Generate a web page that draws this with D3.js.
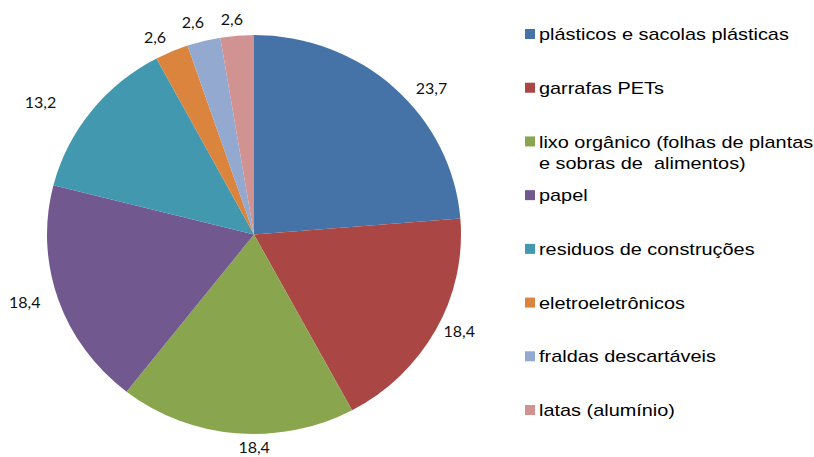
<!DOCTYPE html>
<html>
<head>
<meta charset="utf-8">
<script src="https://cdn.jsdelivr.net/npm/d3@7"></script>
<style>
  body { margin: 0; background: #fff; }
  svg { display: block; }
  .legend text { white-space: pre; }
</style>
</head>
<body>
<svg id="chart"></svg>
<script>
// data
var categories = [
  "plásticos e sacolas plásticas",
  "garrafas PETs",
  "lixo orgânico (folhas de plantas\ne sobras de  alimentos)",
  "papel",
  "residuos de construções",
  "eletroeletrônicos",
  "fraldas descartáveis",
  "latas (alumínio)"
];
var values = [23.7, 18.4, 18.4, 18.4, 13.2, 2.6, 2.6, 2.6];
var valueLabels = ["23,7", "18,4", "18,4", "18,4", "13,2", "2,6", "2,6", "2,6"];
var colors = ["#4572A7", "#AA4643", "#89A54E", "#71588F", "#4198AF", "#DB843D", "#93A9CF", "#D19392"];

// label tweaks (Excel "best fit" placement), degrees / px
var labelAngleShift = [7.8, -3.3, -4.9, 2.4, -6.4, -3.2, -2, -1.2];
var labelRadiusShift = [5, 2, -12, 14, 26, -4, -4, -9];

var width = 814, height = 457;
var cx = 254, cy = 234.5, radius = 207, squash = 199.5 / 207;

var svg = d3.select("#chart").attr("width", width).attr("height", height);

var pie = d3.pie().sort(null).value(function (d) { return d; });
var arcs = pie(values);
var arc = d3.arc().innerRadius(0).outerRadius(radius);

var g = svg.append("g").attr("transform", "translate(" + cx + "," + cy + ")");

// Excel pie is a little flattened vertically
g.append("g")
  .attr("transform", "scale(1," + squash + ")")
  .selectAll("path")
  .data(arcs)
  .enter()
  .append("path")
  .attr("d", arc)
  .attr("fill", function (d, i) { return colors[i]; });

// data labels
g.selectAll("text.lbl")
  .data(arcs)
  .enter()
  .append("text")
  .attr("class", "lbl")
  .attr("x", function (d, i) {
    var a = (d.startAngle + d.endAngle) / 2 + labelAngleShift[i] * Math.PI / 180;
    return Math.sin(a) * (radius + 18 + labelRadiusShift[i]);
  })
  .attr("y", function (d, i) {
    var a = (d.startAngle + d.endAngle) / 2 + labelAngleShift[i] * Math.PI / 180;
    return -Math.cos(a) * (radius + 18 + labelRadiusShift[i]);
  })
  .attr("dy", "0.36em")
  .attr("text-anchor", "middle")
  .style("font-family", "Lato, 'Open Sans', sans-serif")
  .style("font-size", "16px")
  .style("fill", "#111")
  .text(function (d, i) { return valueLabels[i]; });

// legend
var ly = d3.scalePoint().domain(d3.range(categories.length)).range([34, 410]);
var legend = svg.append("g").attr("class", "legend");
var items = legend.selectAll("g")
  .data(categories)
  .enter()
  .append("g")
  .attr("transform", function (d, i) { return "translate(525," + ly(i) + ")"; });

items.append("rect")
  .attr("x", 0)
  .attr("y", -5)
  .attr("width", 10)
  .attr("height", 10)
  .attr("fill", function (d, i) { return colors[i]; });

// text in the original is drawn stretched horizontally
items.append("text")
  .attr("transform", "translate(14,0) scale(1.17,1)")
  .style("font-family", "'Liberation Sans', Arial, sans-serif")
  .style("font-size", "17px")
  .style("fill", "#000")
  .each(function (d) {
    var t = d3.select(this);
    d.split("\n").forEach(function (line, j) {
      t.append("tspan")
        .attr("x", 0)
        .attr("y", j * 21)
        .attr("dy", "0.36em")
        .text(line);
    });
  });
</script>
</body>
</html>
